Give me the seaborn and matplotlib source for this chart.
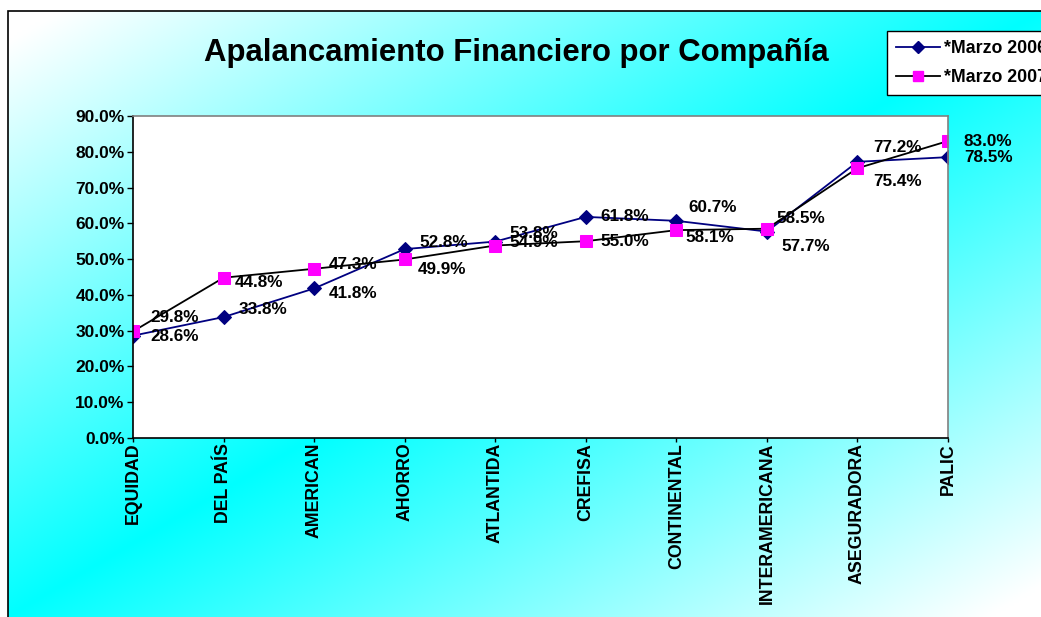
import numpy as np
import pandas as pd
import matplotlib
matplotlib.use("Agg")
import matplotlib.pyplot as plt
from matplotlib.lines import Line2D
from matplotlib.patches import Rectangle
from matplotlib.ticker import FuncFormatter
import seaborn as sns

# datos
companias = ["EQUIDAD", "DEL PAÍS", "AMERICAN", "AHORRO", "ATLANTIDA",
             "CREFISA", "CONTINENTAL", "INTERAMERICANA", "ASEGURADORA", "PALIC"]
marzo_2006 = [28.6, 33.8, 41.8, 52.8, 54.9, 61.8, 60.7, 57.7, 77.2, 78.5]
marzo_2007 = [29.8, 44.8, 47.3, 49.9, 53.8, 55.0, 58.1, 58.5, 75.4, 83.0]
series = ["*Marzo 2006", "*Marzo 2007"]

# desplazamiento de etiquetas (pixeles)
off_2006 = [(17, -1), (15, 8), (15, -5), (15, 7), (14, -1),
            (15, 0), (12, 13), (15, -15), (16, 14), (16, 0)]
off_2007 = [(17, 14), (11, -5), (15, 4), (13, -10), (14, 12),
            (15, 0), (9, -7), (10, 10), (16, -13), (16, 0)]

W, H = 1041, 617
plt.rcParams['font.family'] = ['Liberation Sans', 'DejaVu Sans']
plt.rcParams['font.weight'] = 'bold'

fig = plt.figure(figsize=(W / 100, H / 100), dpi=100)
fig.patch.set_facecolor("white")

# fondo degradado
bg = fig.add_axes([0, 0, 1, 1], zorder=-10)
xx, yy = np.meshgrid(np.linspace(0, 1, 400), np.linspace(0, 1, 240))
t = (xx + yy) / 2
r = np.clip(np.abs(2 * t - 1) * 1.05, 0, 1)
img = np.dstack([r, np.ones_like(r), np.ones_like(r)])
x0 = 8 / W
y1 = 1 - 11 / H
bg.imshow(img, extent=[x0, 1, 0, y1], aspect="auto", origin="upper")
bg.set_xlim(0, 1)
bg.set_ylim(0, 1)
bg.add_patch(Rectangle((x0, -0.01), 1.02 - x0, y1 + 0.01, fill=False,
                       edgecolor="black", linewidth=1.2))
bg.axis("off")

ax = fig.add_axes([133 / W, 1 - 438 / H, (948 - 133) / W, (438 - 116) / H])
ax.set_facecolor("white")

x = np.arange(len(companias))
df = pd.DataFrame({"x": np.concatenate([x, x]),
                   "valor": marzo_2006 + marzo_2007,
                   "serie": [series[0]] * len(x) + [series[1]] * len(x)})

sns.lineplot(data=df[df.serie == series[0]], x="x", y="valor", color="#000080",
             marker="D", markersize=7, markerfacecolor="#000080",
             markeredgecolor="#000080", linewidth=1.3, ax=ax, legend=False)
sns.lineplot(data=df[df.serie == series[1]], x="x", y="valor", color="black",
             marker="s", markersize=8, markerfacecolor="#FF00FF",
             markeredgecolor="#FF00FF", linewidth=1.3, ax=ax, legend=False)

for vals, offs in [(marzo_2006, off_2006), (marzo_2007, off_2007)]:
    for i, (v, o) in enumerate(zip(vals, offs)):
        ax.annotate(f"{v:.1f}%", (i, v), xytext=(o[0] * 0.72, o[1] * 0.72),
                    textcoords="offset points", ha="left", va="center",
                    fontsize=12.3, fontweight="bold", annotation_clip=False)

ax.set_xlim(0, len(companias) - 1)
ax.set_ylim(0, 90)
ax.set_yticks(np.arange(0, 91, 10))
ax.yaxis.set_major_formatter(FuncFormatter(lambda v, p: f"{v:.1f}%"))
ax.set_xticks(x)
ax.set_xticklabels(companias, rotation=90, fontsize=12.8, fontweight="bold")
ax.tick_params(axis="y", labelsize=12.5, length=4, width=1, direction="out", pad=2)
ax.tick_params(axis="x", length=3, width=1, direction="out", pad=0.5)
ax.set_xlabel("")
ax.set_ylabel("")
ax.grid(False)
for s in ["left", "bottom"]:
    ax.spines[s].set_color("black")
    ax.spines[s].set_linewidth(1.2)
for s in ["top", "right"]:
    ax.spines[s].set_color("#808080")
    ax.spines[s].set_linewidth(1.2)

fig.text(516 / W, 1 - 53 / H, "Apalancamiento Financiero por Compañía",
         ha="center", va="center", fontsize=22.4, fontweight="bold")

handles = [Line2D([], [], color="#000080", marker="D", markersize=6,
                  markerfacecolor="#000080", linewidth=1.3),
           Line2D([], [], color="black", marker="s", markersize=7,
                  markerfacecolor="#FF00FF", markeredgecolor="#FF00FF", linewidth=1.3)]
leg = fig.legend(handles, series, loc="upper left",
                 bbox_to_anchor=(887 / W, 1 - 31 / H), frameon=True,
                 fancybox=False, prop={"size": 12.8, "weight": "bold"},
                 handlelength=2.5, borderpad=0.5, labelspacing=0.7,
                 handletextpad=0.2, borderaxespad=0)
leg.get_frame().set_edgecolor("black")
leg.get_frame().set_linewidth(1.0)
leg.get_frame().set_facecolor("white")
leg.get_frame().set_alpha(1)

fig.savefig("out.png", dpi=100)
